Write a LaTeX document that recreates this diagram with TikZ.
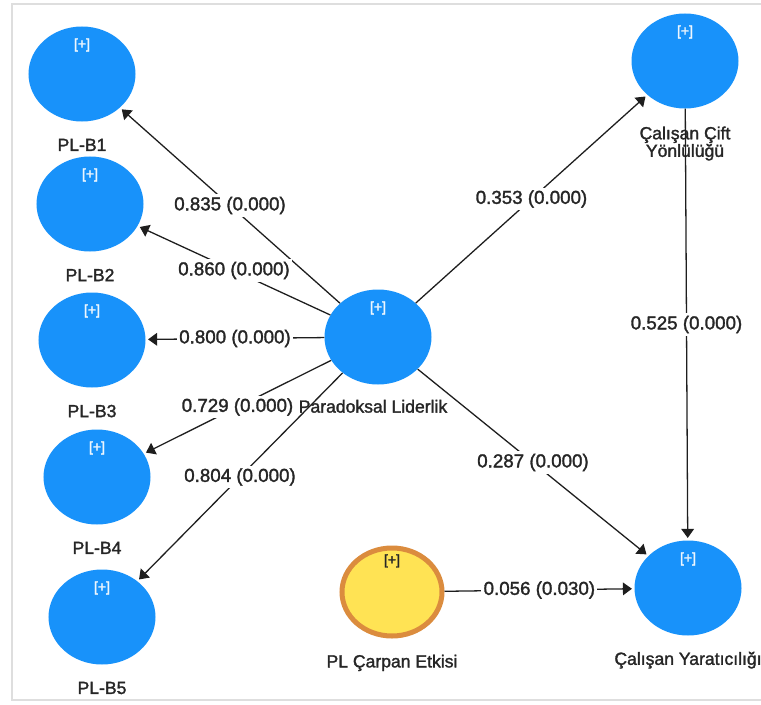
\documentclass[tikz,border=0pt]{standalone}
\usepackage{fontspec}
\setmainfont{Liberation Sans}[FakeBold=1.6]
\newfontfamily\heavyfont{Liberation Sans}[FakeBold=2.2]
\usetikzlibrary{shapes.geometric,arrows.meta}

\definecolor{constructblue}{RGB}{24,146,250}
\definecolor{moderatoryellow}{RGB}{255,227,84}
\definecolor{moderatororange}{RGB}{219,140,62}
\definecolor{pathgray}{RGB}{30,30,30}
\definecolor{framegray}{RGB}{222,222,222}

\newcommand{\namefont}{\fontsize{15}{15}\selectfont}
\newcommand{\coeffont}{\fontsize{16}{18}\selectfont}
\newcommand{\plusfont}{\heavyfont\fontsize{12}{12}\selectfont}

\begin{document}
\begin{tikzpicture}[x=0.03cm, y=-0.03cm,
    construct/.style ={ellipse, fill=constructblue, minimum width=3.21cm, minimum height=2.85cm, inner sep=0pt,
       label={[white!92!constructblue, font=\plusfont, anchor=north, yshift=-0.24cm]north:{[+]}}},
    moderator/.style ={ellipse, fill=moderatoryellow, draw=moderatororange, line width=0.15cm,
       minimum width=3.0cm, minimum height=2.64cm, inner sep=0pt,
       label={[black!85, font=\plusfont, anchor=north, yshift=-0.14cm]north:{[+]}}},
    constructname/.style ={font=\namefont, align=center, text=black!85},
    relation/.style ={draw=pathgray, line width=1.1pt, shorten >=2pt,
       -{Triangle[length=0.27cm, width=0.38cm]}},
    coef/.style ={fill=white, inner sep=2pt, font=\coeffont, text=black!85}]
   \useasboundingbox (0,0) rectangle (761,704);
   \draw[framegray, line width=1.2pt] (761,4) -- (12,4) -- (12,700) -- (761,700);

   \node[construct, label={[constructname, label distance=0.39cm]below:PL-B1}] (B1)  at (82,74)  {};
   \node[construct, label={[constructname, label distance=0.39cm]below:PL-B2}] (B2)  at (90,204)  {};
   \node[construct, label={[constructname, label distance=0.39cm]below:PL-B3}] (B3)  at (92,340)  {};
   \node[construct, label={[constructname, label distance=0.39cm]below:PL-B4}] (B4)  at (97,477)  {};
   \node[construct, label={[constructname, label distance=0.39cm]below:PL-B5}] (B5)  at (102,617)  {};
   \node[construct, label={[constructname, label distance=0.33cm, xshift=-0.15cm]below:Paradoksal Liderlik}] (PL)  at (378,337)  {};
   \node[construct, label={[constructname, label distance=0.41cm]below:Çalışan Çift\\Yönlülüğü}] (CY)  at (685,61)  {};
   \node[construct, label={[constructname, label distance=0.36cm]below:Çalışan Yaratıcılığı}] (CR)  at (688,588)  {};
   \node[moderator, label={[constructname, label distance=0.36cm]below:PL Çarpan Etkisi}] (PE)  at (392,592)  {};


   \draw[relation] (PL) to node[coef] {0.835 (0.000)} (B1);
   \draw[relation] (PL) to node[coef] {0.860 (0.000)} (B2);
   \draw[relation] (PL) to node[coef] {0.800 (0.000)} (B3);
   \draw[relation] (PL) to node[coef] {0.729 (0.000)} (B4);
   \draw[relation] (PL) to node[coef] {0.804 (0.000)} (B5);

   \draw[relation] (PL) to node[coef] {0.353 (0.000)} (CY);
   \draw[relation] (CY) to node[coef] {0.525 (0.000)} (CR);
   \draw[relation] (PL) to node[coef] {0.287 (0.000)} (CR);
   \draw[relation] (PE) to node[coef] {0.056 (0.030)} (CR);

 \end{tikzpicture}
\end{document}
